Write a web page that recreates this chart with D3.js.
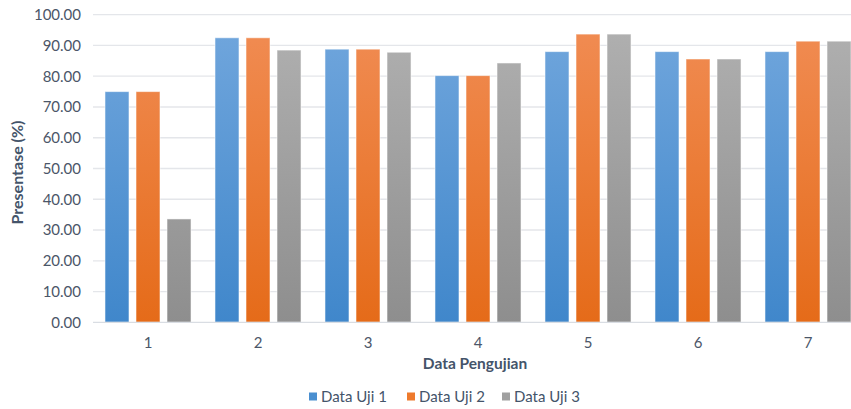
<!DOCTYPE html>
<html>
<head>
<meta charset="utf-8">
<script src="https://cdn.jsdelivr.net/npm/d3@7"></script>
<style>
  html, body { margin: 0; padding: 0; background: #fff; }
  svg { display: block; font-family: Lato, "Open Sans", sans-serif; }
</style>
</head>
<body>
<svg id="chart" width="851" height="409"></svg>
<script>
// Test categories and accuracy per test run
const categories = ["1", "2", "3", "4", "5", "6", "7"];
const seriesNames = ["Data Uji 1", "Data Uji 2", "Data Uji 3"];
const uji1 = [75.0, 92.5, 88.8, 80.2, 88.0, 88.0, 88.0];
const uji2 = [75.0, 92.5, 88.8, 80.2, 93.7, 85.6, 91.4];
const uji3 = [33.6, 88.5, 87.8, 84.3, 93.7, 85.6, 91.4];
const yTicks = [0, 10, 20, 30, 40, 50, 60, 70, 80, 90, 100];

const seriesValues = [uji1, uji2, uji3];
const colors = [
  { top: "#72a7dd", bottom: "#4087cb", key: "#4a8fd0" },
  { top: "#f18d55", bottom: "#e56b19", key: "#ee7a2c" },
  { top: "#b1b1b1", bottom: "#8e8e8e", key: "#a0a0a0" }
];

const svg = d3.select("#chart");
const margin = { left: 93, right: 863, top: 14.7, bottom: 322.3 };

const x0 = d3.scaleBand().domain(categories)
  .range([margin.left, margin.right])
  .paddingInner(0.218).paddingOuter(0.109);
const x1 = d3.scaleBand().domain(d3.range(seriesNames.length))
  .range([0, x0.bandwidth()])
  .paddingInner(0.226).paddingOuter(0);
const y = d3.scaleLinear().domain([0, 100]).range([margin.bottom, margin.top]);

// Vertical gradients for bar fills
const defs = svg.append("defs");
colors.forEach((c, i) => {
  const g = defs.append("linearGradient").attr("id", "grad" + i)
    .attr("gradientUnits", "userSpaceOnUse")
    .attr("x1", 0).attr("x2", 0)
    .attr("y1", y(100)).attr("y2", y(0));
  g.append("stop").attr("offset", "0%").attr("stop-color", c.top);
  g.append("stop").attr("offset", "100%").attr("stop-color", c.bottom);
});

// Horizontal gridlines
svg.append("g").selectAll("line").data(yTicks.filter(t => t > 0)).join("line")
  .attr("x1", margin.left).attr("x2", 851)
  .attr("y1", d => y(d)).attr("y2", d => y(d))
  .attr("stroke", "#e4e6ea").attr("stroke-width", 1.3);

// Y axis tick labels
const yAxis = d3.axisLeft(y).tickValues(yTicks).tickFormat(d3.format(".2f")).tickSize(0).tickPadding(12);
svg.append("g").attr("transform", `translate(${margin.left},0)`).call(yAxis)
  .call(g => g.select(".domain").remove())
  .call(g => g.selectAll("text").attr("fill", "#4b5668").attr("font-size", 15)
    .attr("font-family", "Lato, sans-serif"));

// Bars
const groups = svg.append("g").selectAll("g").data(categories).join("g")
  .attr("transform", d => `translate(${x0(d)},0)`);
groups.selectAll("rect")
  .data((d, ci) => seriesValues.map((vals, si) => ({ si, v: vals[ci] })))
  .join("rect")
  .attr("x", d => x1(d.si))
  .attr("width", x1.bandwidth())
  .attr("y", d => y(d.v))
  .attr("height", d => y(0) - y(d.v))
  .attr("fill", d => `url(#grad${d.si})`)
  .attr("stroke", "rgba(255,255,255,0.55)").attr("stroke-width", 1);

// X axis baseline and labels
const xAxis = d3.axisBottom(x0).tickSize(0).tickPadding(15);
svg.append("g").attr("transform", `translate(0,${margin.bottom})`).call(xAxis)
  .call(g => g.select(".domain").attr("stroke", "#d9dde3").attr("stroke-width", 1.3)
    .attr("d", `M${margin.left},0H851`))
  .call(g => g.selectAll("text").attr("fill", "#4b5668").attr("font-size", 15)
    .attr("font-family", "Lato, sans-serif"));

// Axis titles
svg.append("text").attr("x", (margin.left + margin.right) / 2 - 3).attr("y", 368.5)
  .attr("text-anchor", "middle").attr("font-weight", "bold").attr("font-size", 15.5)
  .attr("fill", "#44546a").text("Data Pengujian");
svg.append("text").attr("transform", `translate(23,${(margin.top + margin.bottom) / 2 + 4}) rotate(-90)`)
  .attr("text-anchor", "middle").attr("font-weight", "bold").attr("font-size", 16)
  .attr("fill", "#44546a").text("Presentase (%)");

// Legend
const legendX = [309, 407, 502];
const legend = svg.append("g").selectAll("g").data(seriesNames).join("g")
  .attr("transform", (d, i) => `translate(${legendX[i]},402)`);
legend.append("rect").attr("x", 0).attr("y", -9.5).attr("width", 8).attr("height", 8)
  .attr("fill", (d, i) => colors[i].key);
legend.append("text").attr("x", 12).attr("y", 0).attr("font-size", 15)
  .attr("fill", "#44546a").text(d => d);
</script>
</body>
</html>
